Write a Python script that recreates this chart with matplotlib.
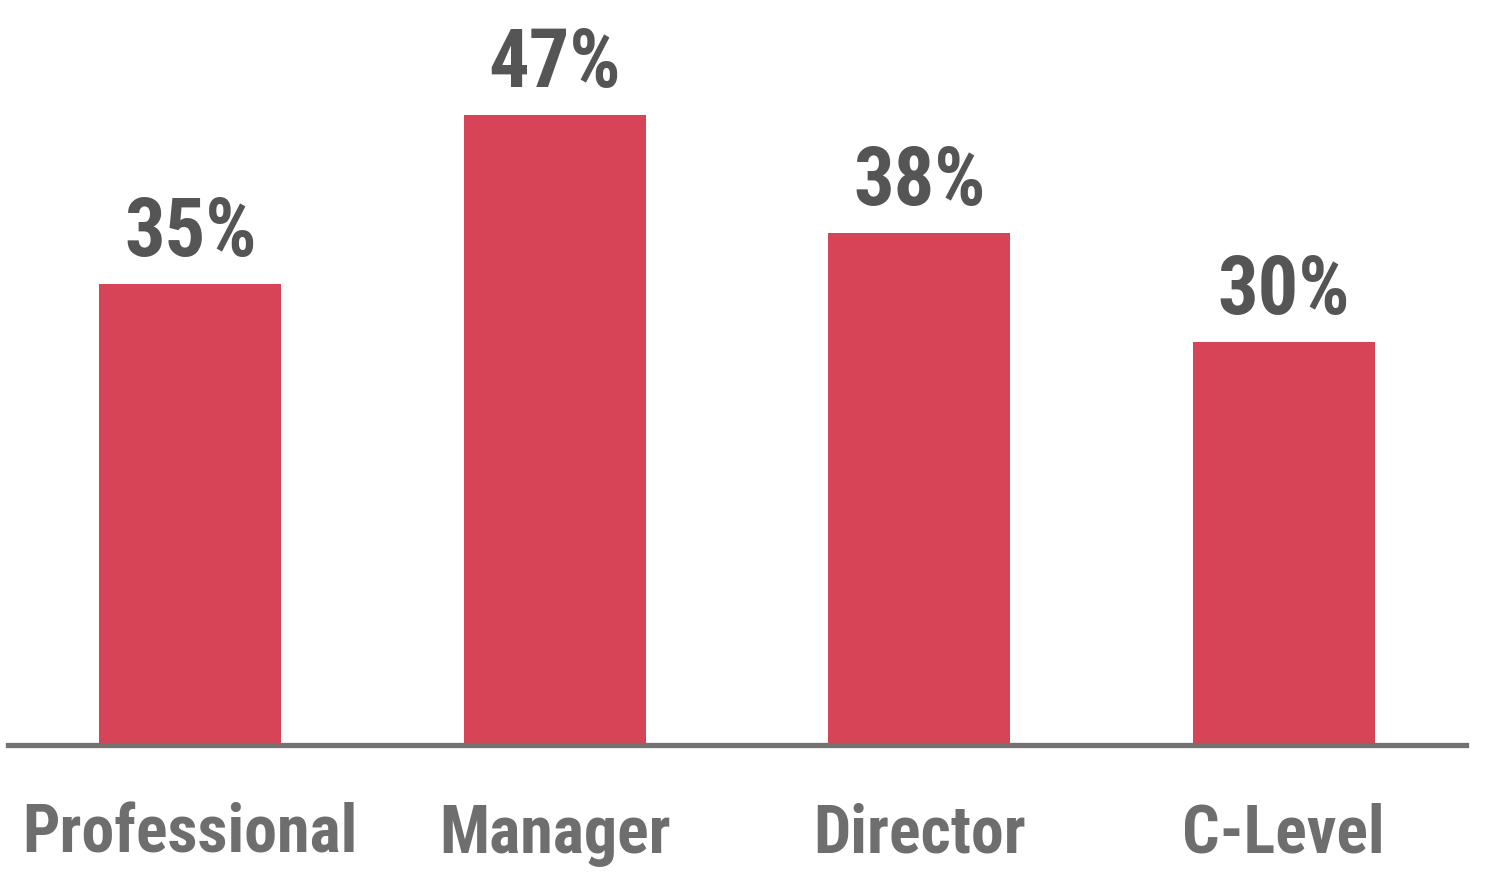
import numpy as np
import matplotlib.pyplot as plt

categories = ["Professional", "Manager", "Director", "C-Level"]
values = [34.4, 47, 38.2, 30.1]
labels = ["35%", "47%", "38%", "30%"]

bar_color = "#D84457"
axis_color = "#767171"
value_color = "#555555"
tick_color = "#6E6E6E"
fam = ["Liberation Sans Narrow", "Roboto Condensed", "DejaVu Sans"]

fig = plt.figure(figsize=(15, 8.79), dpi=100)
ax = fig.add_axes([8 / 1500, 133 / 879, 1458 / 1500, 746 / 879])

x = np.arange(len(categories))
ax.bar(x, values, width=0.5, color=bar_color, zorder=2)

ax.set_xlim(-0.5, 3.5)
ax.set_ylim(0, 746 / 13.4)

for s in ["top", "right", "left"]:
    ax.spines[s].set_visible(False)
ax.spines["bottom"].set_color(axis_color)
ax.spines["bottom"].set_linewidth(3.8)
ax.spines["bottom"].set_zorder(3)
ax.set_yticks([])
ax.set_xticks([])

# value labels
for i, v in enumerate(values):
    ax.annotate(labels[i], xy=(x[i], v), xytext=(0, 29 * 0.72), textcoords="offset points",
                ha="center", va="baseline", fontsize=58, fontweight="bold",
                color=value_color, family=fam)

# category labels
for i, c in enumerate(categories):
    ax.annotate(c, xy=(x[i], 0), xytext=(0, -107 * 0.72), textcoords="offset points",
                ha="center", va="baseline", fontsize=47.5, fontweight="bold",
                color=tick_color, family=fam, annotation_clip=False)

fig.savefig("out.png", dpi=100)
